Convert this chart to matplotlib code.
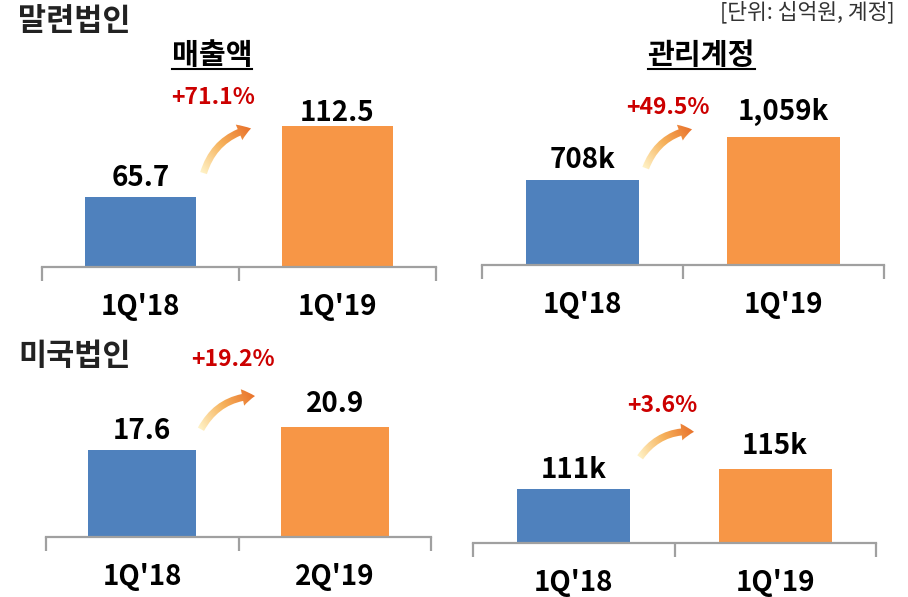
import numpy as np
import matplotlib
matplotlib.use("Agg")
import matplotlib.pyplot as plt
from matplotlib.patches import FancyArrowPatch
from matplotlib.colors import LinearSegmentedColormap

plt.rcParams['font.family'] = ['Noto Sans CJK KR', 'DejaVu Sans']

# ------------------------------------ Data ----------------------------------
cats_my = ["1Q'18", "1Q'19"]
cats_us_sales = ["1Q'18", "2Q'19"]
cats_us_accounts = ["1Q'18", "1Q'19"]
sales_my = [65.7, 112.5]        # 매출액, 십억원
accounts_my = [708, 1059]       # 관리계정, k
sales_us = [17.6, 20.9]
accounts_us = [111, 115]
growth = ["+71.1%", "+49.5%", "+19.2%", "+3.6%"]

BLUE = "#4F81BD"
ORANGE = "#F79646"
AXIS_GRAY = "#A0A0A0"
RED = "#CC0000"

W, H = 908, 597
fig = plt.figure(figsize=(W / 100, H / 100), dpi=100)


def px_axes(x0, x1, ybot, ytop):
    """add axes from pixel coords (y measured from top)"""
    return fig.add_axes([x0 / W, 1 - ybot / H, (x1 - x0) / W, (ybot - ytop) / H])


def bar_panel(ax, cats, vals, labels, ylim, pads):
    xs = [0.5, 1.5]
    ax.bar(xs, vals, width=0.56, color=[BLUE, ORANGE])
    ax.set_xlim(0, 2)
    ax.set_ylim(*ylim)
    # value labels (label gap above bar differs a bit per bar in the slide)
    for x, v, lab, p in zip(xs, vals, labels, pads):
        ax.annotate(lab, (x, v), xytext=(0, p), textcoords="offset points",
                    ha="center", va="bottom", fontsize=20, fontweight="bold")
    for s in ["top", "left", "right"]:
        ax.spines[s].set_visible(False)
    ax.spines["bottom"].set_color(AXIS_GRAY)
    ax.spines["bottom"].set_linewidth(1.6)
    ax.set_yticks([])
    ax.set_xticks(xs, cats, fontsize=20, fontweight="bold")
    ax.tick_params(axis="x", which="major", length=0, pad=19)
    ax.set_xticks([0, 1, 2], minor=True)
    ax.tick_params(axis="x", which="minor", length=10, width=1.6, color=AXIS_GRAY, direction="out")
    ax.patch.set_alpha(0)


# ------------------------------------ Panels ----------------------------------
ax1 = px_axes(42, 436, 267, 87)
bar_panel(ax1, cats_my, sales_my, [f"{v}" for v in sales_my], (19.6, 138.2), (3.3, -1))

ax2 = px_axes(482, 884, 265, 87)
bar_panel(ax2, cats_my, accounts_my, [f"{v:,}k" for v in accounts_my], (0, 1475), (4, 8.3))

ax3 = px_axes(46, 431, 537, 357)
bar_panel(ax3, cats_us_sales, sales_us, [f"{v}" for v in sales_us], (5.1, 30.9), (3.3, 6.2))

ax4 = px_axes(473, 876, 543, 363)
bar_panel(ax4, cats_us_accounts, accounts_us, [f"{v}k" for v in accounts_us], (100.2, 136.2), (3.3, 6.2))

# ------------------------------------ Titles ----------------------------------
fig.text(18 / W, 1 - 21 / H, "말련법인", fontsize=22, fontweight="bold", color="#222222", va="center")
fig.text(18 / W, 1 - 356 / H, "미국법인", fontsize=22, fontweight="bold", color="#222222", va="center")
fig.text(895 / W, 1 - 12 / H, "[단위: 십억원, 계정]", fontsize=15.5, color="#333333", ha="right", va="center")

for cx, txt, x0, x1 in [(212, "매출액", 172, 252), (701, "관리계정", 648, 755)]:
    fig.text(cx / W, 1 - 55 / H, txt, fontsize=21, fontweight="bold", fontstyle="italic",
             ha="center", va="center")
    fig.add_artist(plt.Line2D([x0 / W, x1 / W], [1 - 69 / H, 1 - 69 / H], color="black", lw=1.5))

# growth labels
for (cx, cy), txt in zip([(213, 98), (668, 107), (233, 360), (662, 406)], growth):
    fig.text(cx / W, 1 - cy / H, txt, fontsize=16.5, fontweight="bold", color=RED, ha="center", va="center")

# ------------------------------------ Gradient arrows ----------------------------------
over = fig.add_axes([0, 0, 1, 1])
over.set_xlim(0, W)
over.set_ylim(H, 0)
over.axis("off")
over.patch.set_alpha(0)

arrow_cmap = LinearSegmentedColormap.from_list("arr", ["#FFF3C8", "#F6B25C", "#E8702A"])
arrows = [((203, 175), (253, 128)), ((645, 170), (694, 129)),
          ((200, 431), (257, 396)), ((639, 459), (696, 432))]

for tail, head in arrows:
    arr = FancyArrowPatch(tail, head, arrowstyle="simple,head_length=0.9,head_width=1.2,tail_width=0.5",
                          connectionstyle="arc3,rad=-0.3", mutation_scale=14,
                          facecolor="none", edgecolor="none")
    over.add_patch(arr)
    x0, x1 = min(tail[0], head[0]) - 14, max(tail[0], head[0]) + 14
    y0, y1 = min(tail[1], head[1]) - 14, max(tail[1], head[1]) + 14
    xs = np.linspace(x0, x1, 80)
    ys = np.linspace(y0, y1, 80)
    X, Y = np.meshgrid(xs, ys)
    d = np.array(head) - np.array(tail)
    t = ((X - tail[0]) * d[0] + (Y - tail[1]) * d[1]) / (d @ d)
    im = over.imshow(np.clip(t, 0, 1), cmap=arrow_cmap, extent=(x0, x1, y0, y1), origin="lower",
                     vmin=0, vmax=1, aspect="auto", interpolation="bilinear")
    im.set_clip_path(arr)

over.set_xlim(0, W)
over.set_ylim(H, 0)

fig.savefig("out.png", dpi=100)
